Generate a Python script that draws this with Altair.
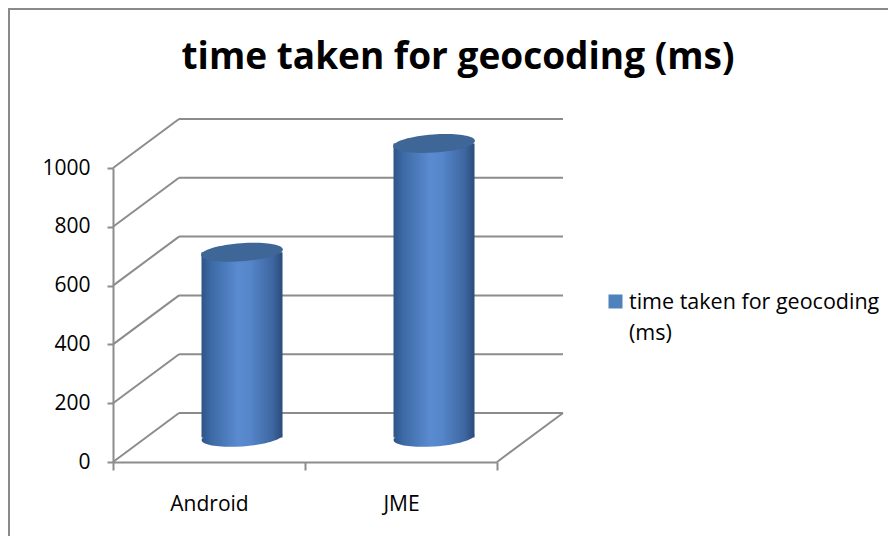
import altair as alt
import pandas as pd

# ---- data ----
categories = ["Android", "JME"]
values = [630, 1000]
y_ticks = [0, 200, 400, 600, 800, 1000]
series_name = "time taken for geocoding (ms)"
legend_lines = ["time taken for geocoding", "(ms)"]

# ---- layout / style ----
W, H = 384, 294          # front plane of the 3-D box
DX, DY = 66, -49         # offset of the back wall
MX, MY = 33, -24.5       # mid depth (where the cylinders stand)
CYL_W = 81
GRID = "#8c8c8c"
FONT = "Open Sans"

bars = pd.DataFrame({"category": categories, "value": values})
grid = pd.DataFrame({"v": y_ticks})
floor = pd.DataFrame({"v": [y_ticks[0]]})

x_scale = alt.Scale(domain=categories, paddingInner=0, paddingOuter=0)
y_scale = alt.Scale(domain=[y_ticks[0], y_ticks[-1]], nice=False)

x_axis = alt.Axis(
    title=None, labelAngle=0, domainColor=GRID, domainWidth=2, grid=False,
    tickColor=GRID, tickWidth=2, tickSize=8, tickBand="extent",
    labelFont=FONT, labelFontSize=21, labelColor="black", labelPadding=23)
y_axis = alt.Axis(
    title=None, values=y_ticks, format="d", grid=False, domainColor=GRID, domainWidth=2,
    tickColor=GRID, tickWidth=2, tickSize=6,
    labelFont=FONT, labelFontSize=21, labelColor="black", labelPadding=17)

body_grad = alt.Gradient(
    gradient="linear", x1=0, y1=0, x2=1, y2=0,
    stops=[
        alt.GradientStop(color="#2e5487", offset=0),
        alt.GradientStop(color="#3d6aa6", offset=0.12),
        alt.GradientStop(color="#5a8bd0", offset=0.45),
        alt.GradientStop(color="#5586ca", offset=0.6),
        alt.GradientStop(color="#3e66a0", offset=0.88),
        alt.GradientStop(color="#2b4b7a", offset=1),
    ],
)

ELLIPSE = ("M -1 0 C -1 -0.1215 -0.5523 -0.22 0 -0.22 "
           "C 0.5523 -0.22 1 -0.1215 1 0 "
           "C 1 0.1215 0.5523 0.22 0 0.22 "
           "C -0.5523 0.22 -1 0.1215 -1 0 Z")

# back wall gridlines
back = alt.Chart(grid).mark_rule(color=GRID, strokeWidth=2, yOffset=DY).encode(
    y=alt.Y("v:Q", scale=y_scale, axis=y_axis),
    x=alt.value(DX), x2=alt.value(W + DX),
)
# side wall diagonals
side = alt.Chart(grid).mark_rule(color=GRID, strokeWidth=2, y2Offset=DY).encode(
    y=alt.Y("v:Q", scale=y_scale, axis=y_axis), y2=alt.Y2("v:Q"),
    x=alt.value(0), x2=alt.value(DX),
)
# floor right edge
floor_edge = alt.Chart(floor).mark_rule(color=GRID, strokeWidth=2, y2Offset=DY).encode(
    y=alt.Y("v:Q", scale=y_scale, axis=y_axis), y2=alt.Y2("v:Q"),
    x=alt.value(W), x2=alt.value(W + DX),
)

bottom_ell = alt.Chart(bars).mark_point(
    shape=ELLIPSE, size=CYL_W ** 2, filled=True, fill=body_grad, opacity=1,
    strokeWidth=0, xOffset=MX, yOffset=MY, angle=356,
).encode(
    x=alt.X("category:N", scale=x_scale, axis=x_axis),
    y=alt.datum(0, scale=y_scale, axis=y_axis),
)

body = alt.Chart(bars).mark_bar(
    color=body_grad, size=CYL_W, xOffset=MX, yOffset=MY, y2Offset=MY,
).encode(
    x=alt.X("category:N", scale=x_scale, axis=x_axis),
    y=alt.Y("value:Q", scale=y_scale, axis=y_axis),
    y2=alt.datum(0),
)

top_ell = alt.Chart(bars).mark_point(
    shape=ELLIPSE, size=(CYL_W + 1) ** 2, filled=True, color="#3e6696", opacity=1,
    strokeWidth=0, xOffset=MX, yOffset=MY, angle=356,
).encode(
    x=alt.X("category:N", scale=x_scale, axis=x_axis),
    y=alt.Y("value:Q", scale=y_scale, axis=y_axis),
)

title = alt.Chart(pd.DataFrame({"t": [series_name]})).mark_text(
    font=FONT, fontSize=37, fontWeight="bold", color="black",
    align="center", baseline="alphabetic",
).encode(x=alt.value(345), y=alt.value(-99.5), text="t:N")

legend_sym = alt.Chart(pd.DataFrame({"t": [series_name]})).mark_point(
    shape="square", filled=True, size=196, color="#4f81bd", opacity=1, strokeWidth=0,
).encode(x=alt.value(502.5), y=alt.value(133.5))

legend_txt = alt.Chart(pd.DataFrame({"t": ["\n".join(legend_lines)]})).mark_text(
    font=FONT, fontSize=21.5, color="black", align="left", baseline="alphabetic",
    lineBreak="\n", lineHeight=31,
).encode(x=alt.value(516), y=alt.value(141), text="t:N")

border = alt.Chart(pd.DataFrame({"t": [0]})).mark_rect(
    fill=None, stroke="#8a8a8a", strokeWidth=2,
).encode(x=alt.value(-104), y=alt.value(-159), x2=alt.value(800), y2=alt.value(400))

chart = alt.layer(
    border, back, side, floor_edge, bottom_ell, body, top_ell, title, legend_sym, legend_txt
).properties(
    width=W, height=H,
    padding={"left": 105, "top": 160, "right": 391, "bottom": 74},
    autosize=alt.AutoSizeParams(type="none"),
).configure(background="white").configure_view(stroke=None)

chart.save("out.html", embed_options={"renderer": "svg", "actions": False})
